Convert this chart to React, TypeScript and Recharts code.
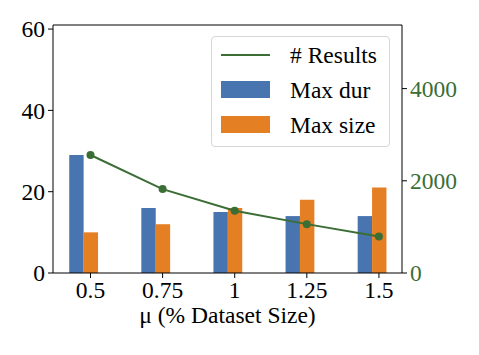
import React from 'react'
import { ComposedChart, Bar, Line, XAxis, YAxis, Legend, Label, ReferenceLine } from 'recharts'

const categories = ['0.5', '0.75', '1', '1.25', '1.5']
const maxDur = [29, 16, 15, 14, 14]
const maxSize = [10, 12, 16, 18, 21]
const results = [2560, 1820, 1350, 1060, 790]
const leftTicks = [0, 20, 40, 60]
const rightTicks = [0, 2000, 4000]

const BLUE = '#4874b0'
const ORANGE = '#e57f24'
const GREEN = '#3b6e35'
const FONT = '"Liberation Serif", "DejaVu Serif", serif'
const FS = 23.5

const data = categories.map((c, i) => ({
  i,
  label: c,
  maxDur: maxDur[i],
  maxSize: maxSize[i],
  results: results[i],
}))

const legendItems = [
  { name: '# Results', color: GREEN, kind: 'line' },
  { name: 'Max dur', color: BLUE, kind: 'rect' },
  { name: 'Max size', color: ORANGE, kind: 'rect' },
]

const renderLegend = () => (
  <div style={{
    boxSizing: 'border-box', width: 179, height: 111, border: '1px solid #d6d6d6',
    borderRadius: 4, background: 'rgba(255,255,255,0.85)', padding: '0 0 0 9px',
    fontFamily: FONT, fontSize: FS, color: '#000', lineHeight: 1,
  }}>
    {legendItems.map(it => (
      <div key={it.name} style={{ display: 'flex', alignItems: 'center', height: 35 }}>
        <div style={{ width: 49, display: 'flex', alignItems: 'center' }}>
          {it.kind === 'line'
            ? <div style={{ width: 49, height: 2, background: it.color }} />
            : <div style={{ width: 49, height: 17, background: it.color }} />}
        </div>
        <span style={{ marginLeft: 20, position: 'relative', top: 1.5, whiteSpace: 'nowrap' }}>{it.name}</span>
      </div>
    ))}
  </div>
)

export default function App() {
  const tick = { fontFamily: FONT, fontSize: FS, fill: '#000' }
  return (
    <div style={{ position: 'absolute', left: 0, top: 0, background: '#fff' }}>
      <ComposedChart width={479} height={355} data={data} barGap={0}
        margin={{ top: 25, right: 7, bottom: 27, left: 8 }}>
        <XAxis xAxisId="main" type="number" dataKey="i" domain={[-0.52, 4.32]}
          ticks={[0, 1, 2, 3, 4]} tickFormatter={(v: number) => categories[v]}
          allowDataOverflow height={55} tickSize={5} tickMargin={3.5}
          stroke="#000" tick={tick} interval={0}>
          <Label value="μ (% Dataset Size)" position="insideBottom" offset={5}
            style={{ fontFamily: FONT, fontSize: FS, fill: '#000' }} />
        </XAxis>
        <XAxis xAxisId="bars" type="number" dataKey="i" domain={[-0.42, 4.42]}
          allowDataOverflow hide height={0} />
        <YAxis yAxisId="left" domain={[0, 61]} ticks={leftTicks} allowDataOverflow
          width={45} tickSize={5} tickMargin={3} stroke="#000" tick={tick} interval={0} />
        <YAxis yAxisId="right" orientation="right" domain={[0, 5380]} ticks={rightTicks}
          allowDataOverflow width={70} tickSize={5} tickMargin={3} stroke="#000"
          tick={{ ...tick, fill: GREEN }} interval={0} />
        <ReferenceLine xAxisId="main" yAxisId="left" y={61} stroke="#000" strokeWidth={1} />
        <Bar xAxisId="bars" yAxisId="left" dataKey="maxDur" name="Max dur" fill={BLUE}
          barSize={14.4} isAnimationActive={false} />
        <Bar xAxisId="bars" yAxisId="left" dataKey="maxSize" name="Max size" fill={ORANGE}
          barSize={14.4} isAnimationActive={false} />
        <Line xAxisId="main" yAxisId="right" dataKey="results" name="# Results" stroke={GREEN}
          strokeWidth={2} dot={{ r: 4, fill: GREEN, stroke: GREEN, strokeWidth: 0 }}
          activeDot={false} isAnimationActive={false} />
        <Legend content={renderLegend} layout="horizontal" verticalAlign="middle" align="center"
          wrapperStyle={{ position: 'absolute', left: 211, top: 36, width: 179, height: 111 }} />
      </ComposedChart>
    </div>
  )
}
